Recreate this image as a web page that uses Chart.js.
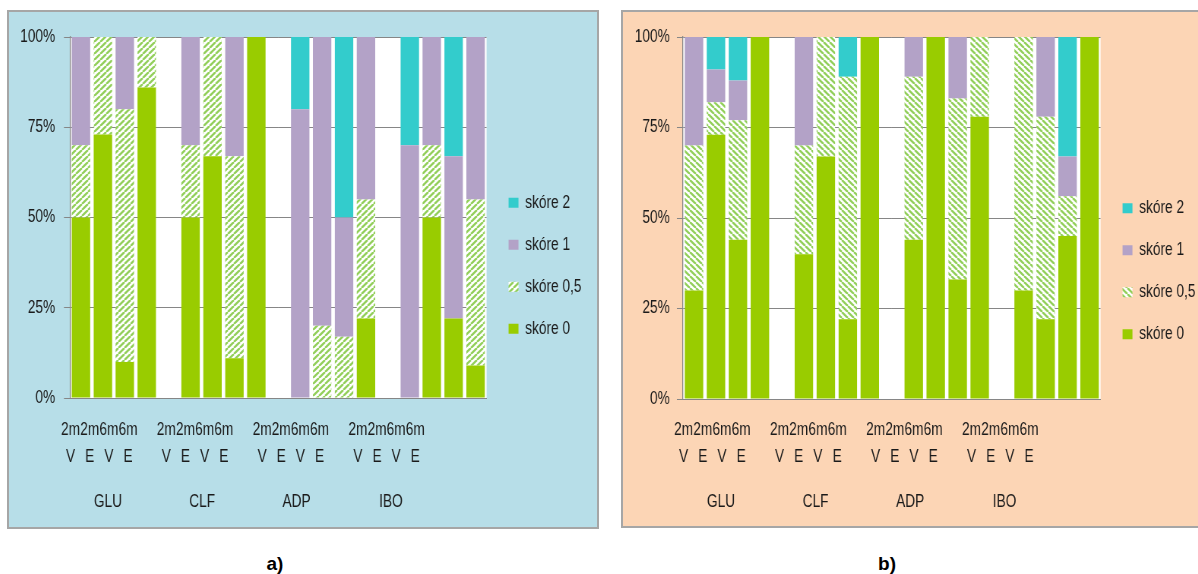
<!DOCTYPE html>
<html>
<head>
<meta charset="utf-8">
<script src="https://cdn.jsdelivr.net/npm/chart.js@4.4.0/dist/chart.umd.min.js"></script>
<style>
  html, body { margin: 0; padding: 0; background: #fff; overflow: hidden; width: 1198px; height: 574px; }
  .panel { position: absolute; box-sizing: border-box; border: 2px solid #a6a6a6; overflow: hidden; }
  #pa { left: 7px; top: 10px; width: 592px; height: 519px; background: #b7dee8; }
  #pb { left: 621px; top: 10px; width: 600px; height: 518px; background: #fcd5b5; }
  .panel canvas { position: absolute; left: 0; top: 0; }
  .cap { position: absolute; top: 553px; font: bold 19px "Liberation Sans", Arial, sans-serif; color: #000; transform: translateX(-50%); }
</style>
</head>
<body>
<!-- the canvases are drawn wider than they are shown, which gives the narrow lettering -->
<div class="panel" id="pa"><canvas id="ca" width="774" height="515" style="width:588px;height:515px"></canvas></div>
<div class="panel" id="pb"><canvas id="cb" width="774" height="514" style="width:588px;height:514px"></canvas></div>
<div class="cap" style="left:275px">a)</div>
<div class="cap" style="left:887px">b)</div>
<script>
// Category labels
const groups  = ['GLU', 'CLF', 'ADP', 'IBO'];
const periods = ['2m', '2m', '6m', '6m'];
const sites   = ['V', 'E', 'V', 'E'];
const seriesNames = ['skóre 0', 'skóre 0,5', 'skóre 1', 'skóre 2'];
const yTicks = [0, 25, 50, 75, 100];

// a) share of each score (%), four bars per group
const aScore0  = [50, 73, 10, 86,   50, 67, 11, 100,   0,  0,  0, 22,    0, 50, 22,  9];
const aScore05 = [20, 27, 70, 14,   20, 33, 56,   0,   0, 20, 17, 33,    0, 20,  0, 46];
const aScore1  = [30,  0, 20,  0,   30,  0, 33,   0,  80, 80, 33, 45,   70, 30, 45, 45];
const aScore2  = [ 0,  0,  0,  0,    0,  0,  0,   0,  20,  0, 50,  0,   30,  0, 33,  0];

// b) share of each score (%)
const bScore0  = [30, 73, 44, 100,  40, 67, 22, 100,  44, 100, 33, 78,  30, 22, 45, 100];
const bScore05 = [40,  9, 33,   0,  30, 33, 67,   0,  45,   0, 50, 22,  70, 56, 11,   0];
const bScore1  = [30,  9, 11,   0,  30,  0,  0,   0,  11,   0, 17,  0,   0, 22, 11,   0];
const bScore2  = [ 0,  9, 12,   0,   0,  0, 11,   0,   0,   0,  0,  0,   0,  0, 33,   0];

const SLOT = 5;                 // four bars plus one empty slot per group
const SX = 588 / 774;           // horizontal display scale of the canvases
const TEXT = '#1a1a1a';
const GRID = '#868686';
const FONT = "'Liberation Sans', Arial, sans-serif";
const GREEN = '#99cc00', PURPLE = '#b3a2c7', CYAN = '#33cccc', HATCH = '#92cf5a';

// insert an empty slot between groups
function spread(values) {
  const out = [];
  groups.forEach((g, gi) => {
    if (gi) out.push(null);
    for (let k = 0; k < periods.length; k++) out.push(values[gi * periods.length + k]);
  });
  return out;
}
const categories = spread(groups.flatMap(g => periods.map((p, k) => g + ' ' + p + ' ' + sites[k]))).map(c => c || '');

// positions (in label units) of the two-line labels and of the group names
const labelSlots = groups.flatMap((g, gi) => periods.map((p, k) => gi * SLOT + k));
const groupSlots = groups.map((g, gi) => gi * SLOT * 0.985 + 1.95);

// diagonal hatch; the tile is widened so it shows at 45 degrees after the squeeze
function hatchPattern(ctx, dir) {
  const h = 6, w = Math.round(h / SX);
  const tile = document.createElement('canvas');
  tile.width = w; tile.height = h;
  const g = tile.getContext('2d');
  g.fillStyle = '#fff';
  g.fillRect(0, 0, w, h);
  g.strokeStyle = HATCH;
  g.lineWidth = 2.4;
  g.beginPath();
  for (const off of [-w, 0, w]) {
    if (dir > 0) { g.moveTo(off, h); g.lineTo(off + w, 0); }      // "/"
    else         { g.moveTo(off, 0); g.lineTo(off + w, h); }      // "\"
  }
  g.stroke();
  return ctx.createPattern(tile, 'repeat');
}

const plotBg = {
  id: 'plotBg',
  beforeDraw(chart) {
    const { ctx, chartArea: { left, top, width, height } } = chart;
    ctx.save();
    ctx.fillStyle = '#fff';
    ctx.fillRect(left, top, width, height);
    ctx.restore();
  }
};

const spacer = (pos, size) => ({
  type: 'linear',
  position: pos,
  display: true,
  offset: false,
  grid: { display: false, drawTicks: false },
  border: { display: false },
  ticks: { display: false },
  afterFit: s => { if (pos === 'top') s.height = size; else s.width = size; }
});

function makeChart(id, series, dir, lay) {
  const canvas = document.getElementById(id);
  const ctx = canvas.getContext('2d');
  const fills = [GREEN, hatchPattern(ctx, dir), PURPLE, CYAN];
  const LMIN = -0.03, LMAX = 21.72;
  return new Chart(ctx, {
    type: 'bar',
    data: {
      labels: categories,
      datasets: series.map((vals, i) => ({
        label: seriesNames[i],
        data: spread(vals),
        xAxisID: 'x',
        yAxisID: 'y',
        backgroundColor: fills[i],
        borderWidth: 0,
        barPercentage: 0.84,
        categoryPercentage: 1
      }))
    },
    options: {
      responsive: false,
      animation: false,
      events: [],
      layout: { padding: { top: lay.pt, left: 0, right: lay.pr, bottom: lay.pb } },
      plugins: {
        tooltip: { enabled: false },
        legend: {
          position: 'right',
          reverse: true,
          labels: {
            color: TEXT,
            font: { family: FONT, size: 18 },
            boxWidth: Math.round(10 / SX),
            boxHeight: 10,
            padding: 24
          }
        }
      },
      scales: {
        x: {
          stacked: true,
          weight: 0,
          grid: { display: false, drawTicks: false },
          border: { display: true, color: GRID, width: 1 },
          ticks: { display: false },
          afterFit: s => { s.height = 0; }
        },
        y: {
          stacked: true,
          min: 0,
          max: 100,
          afterBuildTicks: s => { s.ticks = yTicks.map(v => ({ value: v })); },
          grid: { color: GRID, lineWidth: 1, tickLength: Math.round(6 / SX), drawTicks: true },
          border: { display: true, color: GRID, width: 1.3 },
          ticks: {
            padding: lay.yPad,
            color: TEXT,
            font: { family: FONT, size: 18 },
            callback: v => v + '%'
          },
          afterFit: s => { s.width = lay.yW; }
        },
        lbl: {
          type: 'linear',
          position: 'bottom',
          weight: 1,
          bounds: 'data',
          offset: false,
          min: LMIN,
          max: LMAX,
          afterBuildTicks: s => { s.ticks = labelSlots.map(v => ({ value: v })); },
          grid: { display: false, drawTicks: false, offset: false },
          border: { display: false },
          ticks: {
            autoSkip: false,
            maxRotation: 0,
            minRotation: 0,
            padding: lay.lblPad,
            color: TEXT,
            font: { family: FONT, size: 18, lineHeight: 27 / 18 },
            callback: v => {
              const k = Math.round(v) % SLOT;
              return [periods[k], sites[k]];
            }
          },
          afterFit: s => { s.height = 70; }
        },
        grp: {
          type: 'linear',
          position: 'bottom',
          weight: 2,
          bounds: 'data',
          offset: false,
          min: LMIN,
          max: LMAX,
          afterBuildTicks: s => { s.ticks = groupSlots.map(v => ({ value: v })); },
          grid: { display: false, drawTicks: false, offset: false },
          border: { display: false },
          ticks: {
            autoSkip: false,
            maxRotation: 0,
            minRotation: 0,
            padding: lay.grpPad,
            color: TEXT,
            font: { family: FONT, size: 18, lineHeight: 20 / 18 },
            callback: (v, i) => groups[i]
          },
          afterFit: s => { s.height = lay.grpH; }
        },
        topSpace: spacer('top', lay.topH),
        legendGap: spacer('right', lay.gap)
      }
    },
    plugins: [plotBg]
  });
}

const ca = makeChart('ca', [aScore0, aScore05, aScore1, aScore2], 1,
  { pt: 0, pb: 7.6, pr: 13.7, topH: 25, gap: 5, lblPad: 18.5, grpPad: 24, grpH: 51.4, yW: 61 / SX, yPad: 11.5 });
const cb = makeChart('cb', [bScore0, bScore05, bScore1, bScore2], -1,
  { pt: 4.6, pb: 0, pr: 13.7, topH: 20.4, gap: 5, lblPad: 17.5, grpPad: 22.7, grpH: 57, yW: 60 / SX, yPad: 9.5 });
</script>
</body>
</html>
